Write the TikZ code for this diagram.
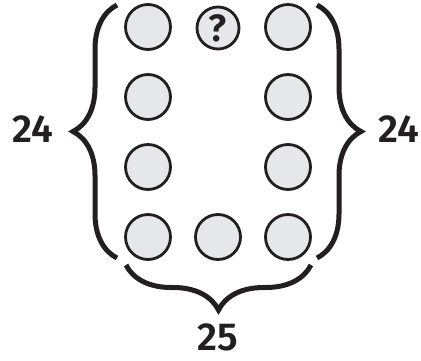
\documentclass[tikz,border=0pt]{standalone}
\usepackage{fontspec}
\setmainfont{Fira Sans}[BoldFont={Fira Sans SemiBold}]
\usetikzlibrary{decorations.pathreplacing,positioning}
\definecolor{disc}{HTML}{E6E7E8}
\definecolor{ink}{HTML}{231F20}

\begin{document}
\begin{tikzpicture}[x=1pt,y=-1pt,
            ball/.style={circle,draw=ink,line width=2.8pt,fill=disc,
              minimum size=45pt,inner sep=0pt},
            bracket/.style={decorate,decoration={brace,amplitude=#1},
              draw=ink,line width=5pt},
            count/.style={font=\bfseries\fontsize{39}{39}\selectfont,text=ink}]
 \useasboundingbox (0,0) rectangle (421,360);

 \node[ball] (c11) at (148,27) {};
 \node[ball,minimum size=42pt,font=\bfseries\fontsize{38}{38}\selectfont,text=ink]
   (c12) at (218,28) {?};
 \node[ball] (c13) at (288,27) {};
 \node[ball] (c21) at (148,97) {};
 \node[ball] (c23) at (288,97) {};
 \node[ball] (c31) at (148,167) {};
 \node[ball] (c33) at (288,167) {};
 \node[ball] (c41) at (148,237) {};
 \node[ball] (c42) at (218,237) {};
 \node[ball] (c43) at (288,237) {};

 \coordinate (lb) at (117,258);
 \coordinate (lt) at (117,5);
 \coordinate (rt) at (317,5);
 \coordinate (rb) at (317,258);
 \coordinate (br) at (311,265);
 \coordinate (bl) at (126,265);
 \draw[bracket=44pt] (lb) -- (lt);
 \draw[bracket=44pt] (rt) -- (rb);
 \draw[bracket=45pt] (br) -- (bl);

 \node[count] (left) at (33,129) {24};
 \node[count] (right) at (399,129) {24};
 \node[count] (bottom) at (218,337) {25};
\end{tikzpicture}
\end{document}
